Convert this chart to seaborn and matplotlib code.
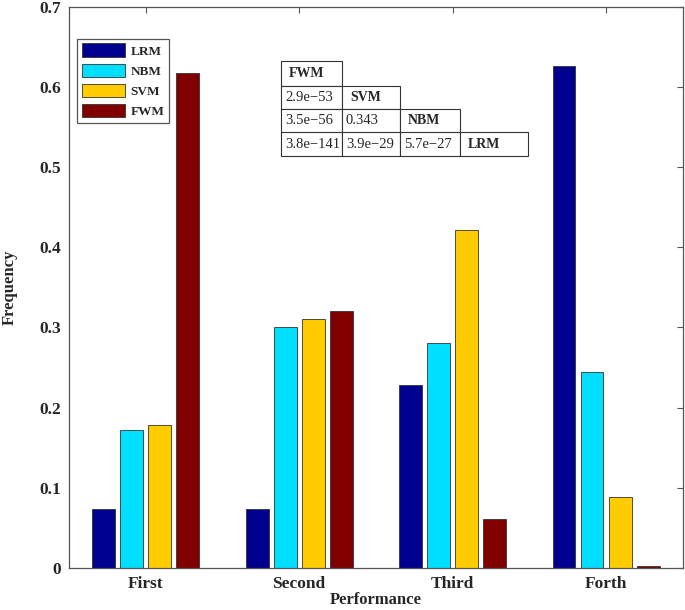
"""
Grouped bar chart of ranking frequency per classifier, with a table of
pairwise p-values drawn as a staircase over the plot.
"""
import matplotlib
matplotlib.use("Agg")
import matplotlib.pyplot as plt
import seaborn as sns
import pandas as pd
from matplotlib.patches import Rectangle

# Data
ranks = ["First", "Second", "Third", "Forth"]
models = ["LRM", "NBM", "SVM", "FWM"]
lrm = [0.074, 0.073, 0.228, 0.626]
nbm = [0.172, 0.301, 0.281, 0.244]
svm = [0.178, 0.310, 0.422, 0.088]
fwm = [0.617, 0.320, 0.061, 0.003]
colors = ["#00008F", "#00DFFF", "#FFCC00", "#800000"]

# p-value table rows (staircase), last entry of each row is the header cell
table_rows = [
    ["FWM"],
    ["2.9e\u221253", "SVM"],
    ["3.5e\u221256", "0.343", "NBM"],
    ["3.8e\u2212141", "3.9e\u221229", "5.7e\u221227", "LRM"],
]

df = pd.DataFrame({
    "Performance": ranks * 4,
    "Frequency": lrm + nbm + svm + fwm,
    "Model": [m for m in models for _ in ranks],
})

sns.set_style("white")
plt.rcParams["font.family"] = ["Liberation Serif", "DejaVu Serif"]
plt.rcParams["font.weight"] = "bold"

fig = plt.figure(figsize=(6.85, 6.10), dpi=100)
ax = fig.add_axes([0.1007, 0.0689, 0.896, 0.920])

sns.barplot(data=df, x="Performance", y="Frequency", hue="Model",
            hue_order=models, order=ranks, palette=colors, saturation=1,
            width=0.73, gap=0.18, edgecolor="#333333", linewidth=0.6, ax=ax)

ax.set_xlim(-0.5, 3.5)
ax.set_ylim(0, 0.7)
ax.set_yticks([0, 0.1, 0.2, 0.3, 0.4, 0.5, 0.6, 0.7])
ax.set_yticklabels(["0", "0.1", "0.2", "0.3", "0.4", "0.5", "0.6", "0.7"])
ax.tick_params(axis="both", direction="in", length=4, width=0.8, color="#555555",
               top=True, right=True, labelsize=12.5, pad=6)
for lbl in ax.get_xticklabels() + ax.get_yticklabels():
    lbl.set_fontweight("bold")
ax.set_xlabel("Performance", fontsize=12, fontweight="bold", labelpad=0)
ax.set_ylabel("Frequency", fontsize=12, fontweight="bold", labelpad=15)
for sp in ax.spines.values():
    sp.set_visible(True)
    sp.set_color("#555555")
    sp.set_linewidth(0.9)

leg = ax.legend(loc="upper left", bbox_to_anchor=(0.013, 0.943), borderaxespad=0,
                handlelength=3.3, handleheight=1.2, labelspacing=0.45,
                handletextpad=0.4, borderpad=0.35, fancybox=False, framealpha=1,
                edgecolor="#555555", prop={"weight": "bold", "size": 9.5})
leg.get_frame().set_linewidth(0.9)

# staircase table in figure pixel coordinates
W, H = 685.0, 610.0
col_x = [281, 342, 400, 460, 528]
row_y = [61, 85.5, 109, 132.5, 156]
for r, row in enumerate(table_rows):
    for c, txt in enumerate(row):
        x0, x1 = col_x[c], col_x[c + 1]
        y0, y1 = row_y[r], row_y[r + 1]
        fig.patches.append(Rectangle((x0 / W, 1 - y1 / H), (x1 - x0) / W, (y1 - y0) / H,
                                     transform=fig.transFigure, facecolor="white",
                                     edgecolor="#333333", linewidth=0.8, zorder=5))
        header = c == len(row) - 1
        fig.text((x0 + (8 if header else 4)) / W, 1 - (y0 + y1) / 2 / H, txt,
                 transform=fig.transFigure, ha="left", va="center",
                 fontsize=10 if header else 10.5,
                 fontweight="bold" if header else "normal", zorder=6)

fig.savefig("out.png", dpi=100)
